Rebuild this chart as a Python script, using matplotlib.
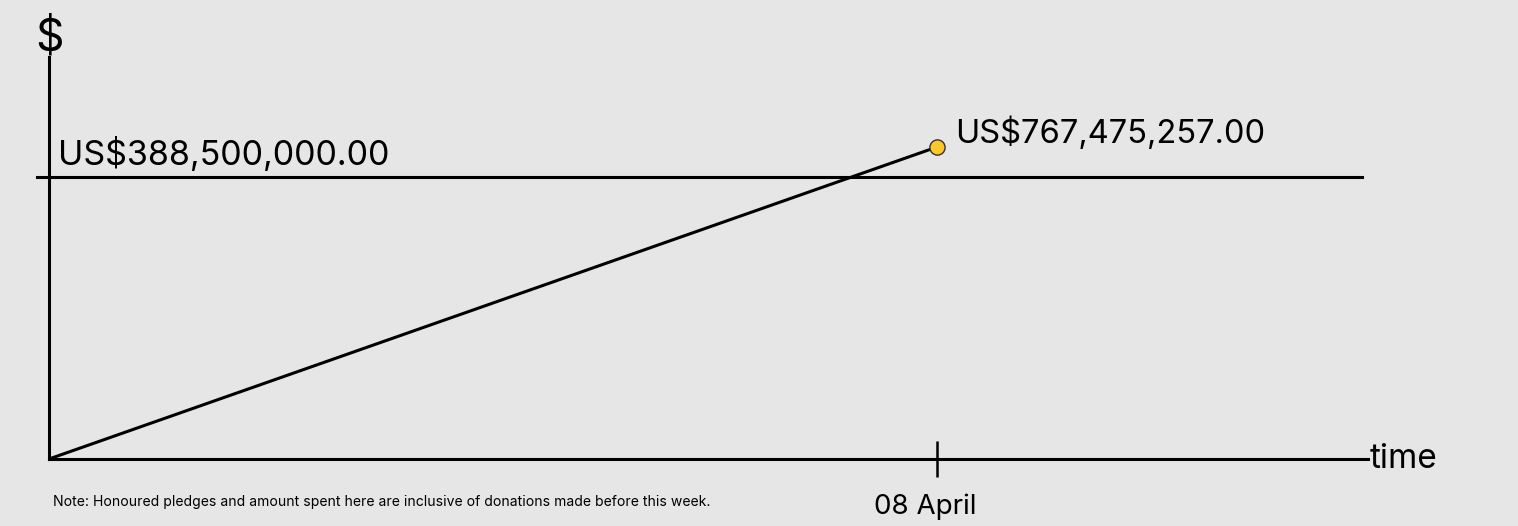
import numpy as np
import matplotlib
matplotlib.use("Agg")
import matplotlib.pyplot as plt
from matplotlib.transforms import ScaledTranslation

plt.rcParams["font.family"] = ["Inter", "DejaVu Sans"]

# data
weeks = [0, 1]
amounts = [0, 767475257.00]
tick_labels = ["08 April"]
target = 388500000.00
note = "Note: Honoured pledges and amount spent here are inclusive of donations made before this week."

bg = "#e6e6e6"
K = 6e5  # compressed y scale so the target and total sit close together


def fwd(v):
    return np.log1p(np.maximum(v, 0) / K)


def inv(t):
    return np.expm1(t) * K


fig = plt.figure(figsize=(15.18, 5.26), dpi=100, facecolor=bg)
ax = fig.add_axes([49 / 1518, 67 / 526, 1319 / 1518, 402 / 526])
ax.set_facecolor(bg)

ax.set_yscale("function", functions=(fwd, inv))
ax.set_ylim(0, inv(fwd(amounts[-1]) * 402 / 312))
ax.set_xlim(0, 1319 / 888)

for s in ["top", "right"]:
    ax.spines[s].set_visible(False)
for s in ["left", "bottom"]:
    ax.spines[s].set_linewidth(2.2)
    ax.spines[s].set_color("black")

ax.set_yticks([])
ax.set_xticks(weeks[1:])
ax.set_xticklabels(tick_labels, fontsize=20)
ax.tick_params(axis="x", direction="inout", length=26, width=1.8, pad=12)
for lbl in ax.get_xticklabels():
    lbl.set_transform(lbl.get_transform() + ScaledTranslation(-0.12, 0, fig.dpi_scale_trans))

# target line
trans = ax.get_yaxis_transform()
ax.plot([-0.0091, 0.9955], [target, target], color="black", lw=2.2,
        transform=trans, clip_on=False)
ax.annotate("US$388,500,000.00", xy=(0, target), xycoords=trans,
            xytext=(6.5, 8.3), textcoords="offset points", fontsize=24.5,
            ha="left", va="baseline")

# progress line
ax.plot(weeks, amounts, color="black", lw=2.2, zorder=3)
ax.scatter(weeks[-1:], amounts[-1:], s=120, color="#fcc72c",
           edgecolor="#333333", linewidth=1, zorder=4, clip_on=False)
ax.annotate("US$767,475,257.00", xy=(weeks[-1], amounts[-1]),
            xytext=(13, 3), textcoords="offset points", fontsize=23.5,
            ha="left", va="baseline")

ax.annotate("time", xy=(1, 0), xycoords="axes fraction", xytext=(1, -6.5),
            textcoords="offset points", fontsize=24, ha="left", va="baseline")
ax.annotate("$", xy=(0, 1), xycoords="axes fraction", xytext=(0, 5),
            textcoords="offset points", fontsize=32, ha="center", va="baseline")

fig.text(53 / 1518, 1 - 506 / 526, note, fontsize=10.1, ha="left", va="baseline")

fig.savefig("out.png", dpi=100, facecolor=bg)
